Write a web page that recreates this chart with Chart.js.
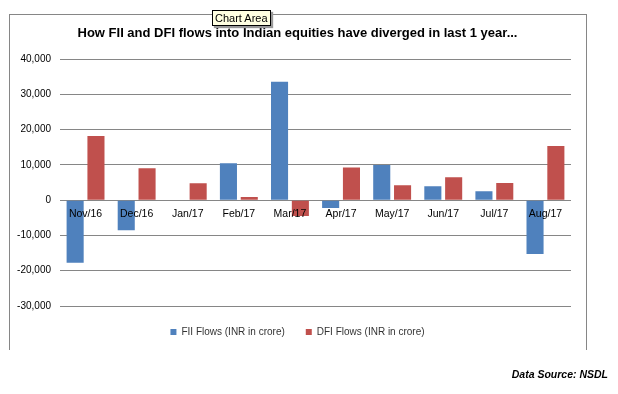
<!DOCTYPE html>
<html>
<head>
<meta charset="utf-8">
<script src="https://cdn.jsdelivr.net/npm/chart.js@4.4.1/dist/chart.umd.min.js"></script>
<style>
  body { margin: 0; background: #fff; font-family: "Liberation Sans", Arial, sans-serif; }
  #wrap { position: relative; width: 618px; height: 394px; }
  #frame { position: absolute; left: 9px; top: 14px; width: 576px; height: 335px;
           border: 1px solid #868686; border-bottom: none; }
  #myChart { position: absolute; left: 0; top: 0; }
  #tip { position: absolute; left: 212px; top: 10px; height: 14px; padding: 0 2px;
         background: #ffffe1; border: 1px solid #000; font-size: 11px; line-height: 14px;
         box-shadow: 2px 2px 1px #999; color: #000; }
  #source { position: absolute; right: 10px; top: 368px; font-size: 10.5px;
            font-weight: bold; font-style: italic; color: #000; }
</style>
</head>
<body>
<div id="wrap">
  <div id="frame"></div>
  <canvas id="myChart" width="618" height="394"></canvas>
  <div id="tip">Chart Area</div>
  <div id="source">Data Source: NSDL</div>
</div>
<script>
// monthly net flows, INR crore
var months = ["Nov/16", "Dec/16", "Jan/17", "Feb/17", "Mar/17", "Apr/17", "May/17", "Jun/17", "Jul/17", "Aug/17"];
var fiiFlows = [-17700, -8500, 0, 10500, 33600, -2200, 10000, 3950, 2550, -15250];
var dfiFlows = [18250, 9100, 4800, 900, -4450, 9300, 4250, 6500, 4900, 15350];

Chart.defaults.font.family = "Liberation Sans";

new Chart("myChart", {
    type: "bar",
    data: {
        labels: months,
        datasets: [{
            label: "FII Flows (INR in crore)",
            backgroundColor: "#4f81bd",
            data: fiiFlows
        }, {
            label: "DFI Flows (INR in crore)",
            backgroundColor: "#c0504d",
            data: dfiFlows
        }]
    },
    options: {
        responsive: false,
        animation: false,
        categoryPercentage: 0.815,
        barPercentage: 0.82,
        layout: {padding: {left: 17, right: 40, top: 0, bottom: 47}},
        plugins: {
            tooltip: {enabled: false},
            title: {
                display: true,
                text: "How FII and DFI flows into Indian equities have diverged in last 1 year...",
                color: "#000",
                font: {size: 13, weight: "bold"},
                padding: {top: 26, bottom: 17.6}
            },
            legend: {
                position: "bottom",
                labels: {
                    boxWidth: 6,
                    boxHeight: 6,
                    padding: 21,
                    color: "#333",
                    font: {size: 10}
                }
            }
        },
        scales: {
            x: {
                position: {y: 0},
                grid: {display: false},
                border: {display: false},
                ticks: {z: 1, color: "#000", padding: 0, font: {size: 10.5}, maxRotation: 0}
            },
            y: {
                min: -30000,
                max: 40000,
                afterFit: function(scale) { scale.width = 43; },
                grid: {color: "#868686", drawTicks: false},
                border: {display: false},
                ticks: {
                    stepSize: 10000,
                    padding: 9,
                    color: "#000",
                    font: {size: 10},
                    callback: function(v) { return v.toLocaleString("en-US"); }
                }
            },
            // empty spacer on the right so the plot ends where the original does
            y2: {
                position: "right",
                min: -30000,
                max: 40000,
                afterFit: function(scale) { scale.width = 7; },
                grid: {display: false},
                border: {display: false},
                ticks: {display: false}
            }
        }
    }
});
</script>
</body>
</html>
